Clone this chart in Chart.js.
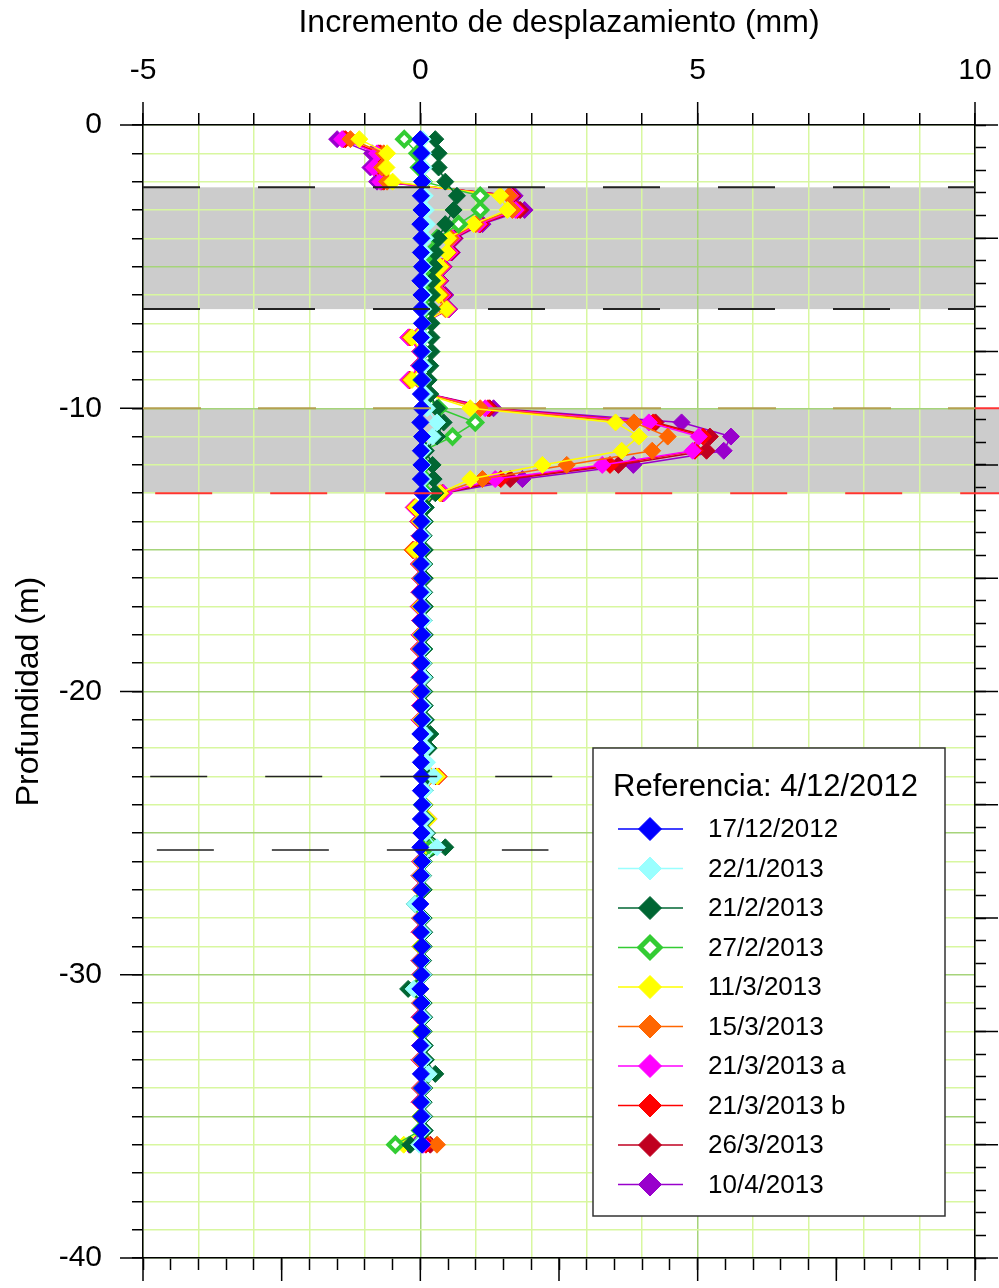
<!DOCTYPE html>
<html>
<head>
<meta charset="utf-8">
<script src="https://cdn.jsdelivr.net/npm/chart.js@4.4.0/dist/chart.umd.min.js"></script>
<style>
    html, body { margin: 0; padding: 0; background: #fff; }
</style>
</head>
<body>
<canvas id="inclinoChart" width="999" height="1288"></canvas>
<script>
// Inclinometer - displacement increment vs depth

const depths = [
    -0.5, -1, -1.5, -2, -2.5, -3, -3.5, -4,
    -4.5, -5, -5.5, -6, -6.5, -7, -7.5, -8,
    -8.5, -9, -9.5, -10, -10.5, -11, -11.5, -12,
    -12.5, -13, -13.5, -14, -14.5, -15, -15.5, -16,
    -16.5, -17, -17.5, -18, -18.5, -19, -19.5, -20,
    -20.5, -21, -21.5, -22, -22.5, -23, -23.5, -24,
    -24.5, -25, -25.5, -26, -26.5, -27, -27.5, -28,
    -28.5, -29, -29.5, -30, -30.5, -31, -31.5, -32,
    -32.5, -33, -33.5, -34, -34.5, -35, -35.5, -36
];

const seriesLabels = ['17/12/2012', '22/1/2013', '21/2/2013', '27/2/2013', '11/3/2013',
    '15/3/2013', '21/3/2013 a', '21/3/2013 b', '26/3/2013', '10/4/2013'];

const d171212 = [
    0, 0.02, 0.01, 0.03, 0.01, 0.02, 0, 0.02,
    0.01, 0.03, 0, 0.02, 0.01, 0.03, 0.01, 0.02,
    0, 0.03, 0.01, 0.02, 0, 0.03, 0.01, 0.02,
    0.01, 0.03, 0.01, 0.02, 0, 0.02, 0.01, 0.03,
    0, 0.02, 0.01, 0.03, 0.01, 0.02, 0, 0.02,
    0.01, 0.03, 0, 0.02, 0.01, 0.02, 0.01, 0.03,
    0.01, 0.02, 0, 0.03, 0.01, 0.02, 0, 0.02,
    0.01, 0.03, 0.01, 0.02, 0, 0.02, 0.01, 0.03,
    0, 0.02, 0.01, 0.03, 0.01, 0.02, 0.01, 0.03
];
const d220113 = [
    0.04, 0.05, 0.06, 0.05, 0.08, 0.1, 0.12, 0.09,
    0.07, 0.06, 0.05, 0.06, 0.05, 0.04, 0.06, 0.05,
    0.06, 0.05, 0.08, 0.12, 0.3, 0.22, 0.05, 0.04,
    0.05, 0.06, 0.03, 0.05, 0.04, 0.03, 0.05, 0.04,
    0.05, 0.04, 0.06, 0.05, 0.04, 0.05, 0.06, 0.04,
    0.05, 0.06, 0.08, 0.1, 0.12, 0.24, 0.08, 0.06,
    0.08, 0.1, 0.3, 0.05, 0.04, 0.03, -0.1, 0.04,
    0.05, 0.04, 0.03, 0.05, -0.12, 0.04, 0.05, 0.04,
    0.05, 0.06, 0.15, 0.05, 0.04, 0.05, 0.04, -0.02
];
const d210213 = [
    0.27, 0.33, 0.33, 0.45, 0.66, 0.6, 0.45, 0.33,
    0.27, 0.25, 0.21, 0.21, 0.21, 0.2, 0.2, 0.2,
    0.18, 0.15, 0.18, 0.3, 0.42, 0.3, 0.1, 0.22,
    0.24, 0.27, 0.1, 0.08, 0.06, 0.08, 0.07, 0.08,
    0.07, 0.08, 0.06, 0.08, 0.07, 0.06, 0.08, 0.07,
    0.08, 0.1, 0.18, 0.15, 0.08, 0.12, 0.08, 0.07,
    0.1, 0.12, 0.45, 0.06, 0.05, 0.06, -0.1, 0.06,
    0.07, 0.06, 0.05, 0.06, -0.22, 0.06, 0.07, 0.06,
    0.08, 0.1, 0.27, 0.07, 0.06, 0.07, 0.08, -0.18
];
const d270213 = [
    -0.29, -0.05, -0.02, 0.05, 1.08, 1.08, 0.69, 0.3,
    0.2, 0.15, 0.12, 0.1, 0.08, 0.06, 0.04, 0.05,
    0.05, 0.03, 0.08, 0.33, 0.99, 0.58, 0.05, 0.06,
    0.08, 0.1, 0.04, 0.05, 0.03, 0.04, 0.05, 0.04,
    0.04, 0.05, 0.03, 0.04, 0.05, 0.04, 0.03, 0.05,
    0.04, 0.05, 0.06, 0.05, 0.06, 0.12, 0.05, 0.04,
    0.06, 0.08, 0.2, 0.04, 0.03, 0.04, -0.05, 0.03,
    0.04, 0.03, 0.02, 0.03, -0.08, 0.03, 0.04, 0.03,
    0.04, 0.05, 0.1, 0.04, 0.03, 0.02, 0, -0.45
];
const d110313 = [
    -1.1, -0.6, -0.61, -0.5, 1.44, 1.57, 0.96, 0.5,
    0.48, 0.36, 0.3, 0.33, 0.48, 0.05, -0.15, 0.02,
    0, -0.15, 0.1, 0.9, 3.52, 3.94, 3.63, 2.2,
    0.9, 0.35, -0.08, 0, 0.01, -0.1, 0, 0.02,
    0.01, 0, 0.02, 0.01, 0, 0.02, 0.01, 0,
    0.02, 0.01, 0.05, 0.03, 0.1, 0.3, 0.05, 0.08,
    0.15, 0.05, 0.1, 0.02, 0, 0.01, -0.05, 0.02,
    0.01, 0, 0.02, 0.01, 0, 0.02, 0.01, 0,
    0.02, 0.01, 0.05, 0.02, 0.01, 0, 0.01, -0.3
];
const d150313 = [
    -1.26, -0.66, -0.69, -0.6, 1.6, 1.66, 1, 0.55,
    0.5, 0.38, 0.32, 0.37, 0.45, 0.05, -0.18, 0.02,
    0, -0.18, 0.12, 1.08, 3.85, 4.46, 4.18, 2.64,
    1.12, 0.37, -0.1, -0.02, 0, -0.14, -0.02, 0.01,
    0, -0.02, 0.01, 0, -0.01, 0.01, 0, -0.01,
    0.01, 0, 0.04, 0.02, 0.08, 0.33, 0.04, 0.06,
    0.12, 0.04, 0.08, 0.01, 0, 0.01, -0.04, 0.01,
    0, 0.01, 0, 0.01, -0.02, 0.01, 0, 0.01,
    0.01, 0, 0.04, 0.01, 0, 0.01, 0.02, 0.3
];
const d210313a = [
    -1.41, -0.78, -0.84, -0.72, 1.62, 1.72, 1.05, 0.58,
    0.53, 0.4, 0.34, 0.4, 0.5, 0.05, -0.22, 0,
    -0.02, -0.22, 0.14, 1.17, 4.12, 5.02, 4.91, 3.28,
    1.35, 0.42, -0.12, -0.03, -0.01, -0.13, -0.03, 0,
    -0.01, -0.03, 0, -0.01, -0.02, 0, -0.01, -0.02,
    0, -0.01, 0.03, 0.02, 0.08, 0.33, 0.04, 0.07,
    0.15, 0.04, 0.08, 0, -0.01, 0, -0.05, 0,
    -0.01, 0, -0.01, 0, -0.03, 0, -0.01, 0,
    0, -0.01, 0.03, 0, -0.01, 0, 0.01, 0.05
];
const d210313b = [
    -1.35, -0.72, -0.78, -0.66, 1.63, 1.75, 1.07, 0.58,
    0.54, 0.4, 0.34, 0.41, 0.5, 0.04, -0.2, 0,
    -0.02, -0.2, 0.13, 1.22, 4.2, 5.1, 4.95, 3.42,
    1.45, 0.4, -0.1, -0.03, -0.01, -0.14, -0.02, 0,
    -0.01, -0.02, 0, -0.01, -0.02, 0, -0.01, -0.01,
    0, -0.01, 0.03, 0.02, 0.07, 0.3, 0.04, 0.06,
    0.12, 0.03, 0.07, 0, -0.01, 0, -0.04, 0,
    -0.01, 0, -0.01, 0, -0.02, 0, -0.01, 0,
    0, -0.01, 0.03, 0, -0.01, 0, 0.01, 0.1
];
const d260313 = [
    -1.38, -0.75, -0.8, -0.7, 1.66, 1.8, 1.08, 0.6,
    0.55, 0.41, 0.35, 0.42, 0.51, 0.04, -0.2, 0,
    -0.02, -0.2, 0.14, 1.25, 4.24, 5.22, 5.16, 3.57,
    1.62, 0.4, -0.1, -0.03, -0.01, -0.12, -0.02, 0,
    -0.01, -0.02, 0, -0.01, -0.02, 0, -0.01, -0.01,
    0, -0.01, 0.03, 0.02, 0.07, 0.28, 0.04, 0.06,
    0.12, 0.03, 0.07, 0, -0.01, 0, -0.04, 0,
    -0.01, 0, -0.01, 0, -0.02, 0, -0.01, 0,
    0, -0.01, 0.03, 0, -0.01, 0, 0.01, 0.18
];
const d100413 = [
    -1.5, -0.87, -0.9, -0.78, 1.7, 1.88, 1.12, 0.62,
    0.57, 0.42, 0.36, 0.45, 0.52, 0.05, -0.2, 0,
    -0.02, -0.2, 0.15, 1.32, 4.71, 5.6, 5.47, 3.84,
    1.84, 0.42, -0.1, -0.03, -0.01, -0.12, -0.02, 0,
    -0.01, -0.02, 0, -0.01, -0.02, 0, -0.01, -0.01,
    0, -0.01, 0.03, 0.02, 0.07, 0.28, 0.04, 0.06,
    0.12, 0.03, 0.07, 0, -0.01, 0, -0.04, 0,
    -0.01, 0, -0.01, 0, -0.02, 0, -0.01, 0,
    0, -0.01, 0.03, 0, -0.01, 0, 0.01, -0.2
];

// layer boundaries (m) and marker depths
const bandTops = [-2.2, -10];
const bandBottoms = [-6.5, -13];
const markerDepths = [-23, -25.6];

const xTickLabels = [-5, 0, 5, 10];
const yTickLabels = [0, -10, -20, -30, -40];

const seriesValues = [d171212, d220113, d210213, d270213, d110313, d150313, d210313a, d210313b, d260313, d100413];
const seriesColors = ['#0000ff', '#99ffff', '#006633', '#33cc33', '#ffff00', '#ff6600', '#ff00ff', '#ff0000', '#c00020', '#9900cc'];

const FONT = "'Liberation Sans', Arial, sans-serif";
Chart.defaults.font.family = FONT;
Chart.defaults.color = '#000';

const datasets = seriesValues.map((vals, i) => {
    const hollow = i === 3;
    return {
        label: seriesLabels[i],
        data: depths.map((d, j) => ({ x: vals[j], y: d })),
        showLine: true,
        borderColor: seriesColors[i],
        backgroundColor: hollow ? '#ffffff' : seriesColors[i],
        pointBorderColor: seriesColors[i],
        pointBackgroundColor: hollow ? '#ffffff' : seriesColors[i],
        pointStyle: 'rectRot',
        pointRadius: hollow ? 7 : 8.5,
        pointBorderWidth: hollow ? 4 : 1,
        borderWidth: 1.5,
        order: 0
    };
});

function refLine(y, x0, x1, color, width, dash) {
    return {
        label: '',
        data: [{ x: x0, y: y }, { x: x1, y: y }],
        showLine: true,
        borderColor: color,
        borderWidth: width,
        borderDash: dash,
        pointRadius: 0,
        clip: false,
        order: -1
    };
}

// dashed boundaries of the gray layers
datasets.push(refLine(bandTops[0], -5, 10, '#222', 2, [57, 58]));
datasets.push(refLine(bandBottoms[0], -5, 10, '#222', 2, [57, 58]));
datasets.push(refLine(bandTops[1], -5, 10, '#b4a050', 2, [58, 57]));
datasets.push(refLine(bandTops[1], 10, 10.5, '#ff3333', 2, []));
datasets.push(refLine(bandBottoms[1], -4.78, 10.45, '#ff3333', 2, [57, 58]));
datasets.push(refLine(markerDepths[0], -4.87, 2.4, '#222', 1.5, [57, 58]));
datasets.push(refLine(markerDepths[1], -4.75, 2.31, '#222', 1.5, [57, 58]));

// gray layers behind the grid
const bandsPlugin = {
    id: 'bands',
    beforeDraw(chart) {
        const { ctx, scales: { x, y } } = chart;
        ctx.save();
        ctx.fillStyle = '#cccccc';
        bandTops.forEach((top, i) => {
            const x0 = x.getPixelForValue(-5);
            const x1 = x.getPixelForValue(i === 1 ? 10.5 : 10);
            const y0 = y.getPixelForValue(top);
            const y1 = y.getPixelForValue(bandBottoms[i]);
            ctx.fillRect(x0, y0, x1 - x0, y1 - y0);
        });
        ctx.restore();
    }
};

// long ticks at major values on all four axes
const majorTicksPlugin = {
    id: 'majorTicks',
    afterDraw(chart) {
        const { ctx, scales: { x, x2, y, y2 } } = chart;
        const len = 23;
        ctx.save();
        ctx.strokeStyle = '#000';
        ctx.lineWidth = 1.5;
        ctx.beginPath();
        xTickLabels.forEach(v => {
            const px = x.getPixelForValue(v);
            ctx.moveTo(px, x.bottom);
            ctx.lineTo(px, x.bottom - len);
        });
        [-5, -2.5, 0, 2.5, 5, 7.5, 10].forEach(v => {
            const px = x2.getPixelForValue(v);
            ctx.moveTo(px, x2.top);
            ctx.lineTo(px, x2.top + len);
        });
        yTickLabels.forEach(v => {
            const py = y.getPixelForValue(v);
            ctx.moveTo(y.right, py);
            ctx.lineTo(y.right - len, py);
        });
        [0, -4, -8, -12, -16, -20, -24, -28, -32, -36, -40].forEach(v => {
            const py = y2.getPixelForValue(v);
            ctx.moveTo(y2.left, py);
            ctx.lineTo(y2.left + len, py);
        });
        ctx.stroke();
        ctx.restore();
    }
};

// legend box inside the plot
const legendBoxPlugin = {
    id: 'legendBox',
    afterDraw(chart) {
        const ctx = chart.ctx;
        const bx = 593, by = 748, bw = 352, bh = 468;
        ctx.save();
        ctx.fillStyle = '#fff';
        ctx.fillRect(bx, by, bw, bh);
        ctx.strokeStyle = '#333';
        ctx.lineWidth = 1.5;
        ctx.strokeRect(bx, by, bw, bh);

        ctx.fillStyle = '#000';
        ctx.textBaseline = 'middle';
        ctx.textAlign = 'left';
        ctx.font = `31px ${FONT}`;
        ctx.fillText('Referencia: 4/12/2012', bx + 20, by + 39);

        ctx.font = `26px ${FONT}`;
        chart.data.datasets.slice(0, seriesLabels.length).forEach((ds, i) => {
            const cy = by + 81 + i * 39.5;
            const cx = bx + 57;
            ctx.strokeStyle = ds.borderColor;
            ctx.lineWidth = 1.5;
            ctx.beginPath();
            ctx.moveTo(bx + 25, cy);
            ctx.lineTo(bx + 90, cy);
            ctx.stroke();

            const r = i === 3 ? 10 : 11.5;
            ctx.beginPath();
            ctx.moveTo(cx, cy - r);
            ctx.lineTo(cx + r, cy);
            ctx.lineTo(cx, cy + r);
            ctx.lineTo(cx - r, cy);
            ctx.closePath();
            ctx.fillStyle = ds.pointBackgroundColor;
            ctx.fill();
            ctx.lineWidth = i === 3 ? 5 : 1;
            ctx.strokeStyle = ds.pointBorderColor;
            ctx.stroke();

            ctx.fillStyle = '#000';
            ctx.fillText(ds.label, bx + 115, cy + 1);
        });
        ctx.restore();
    }
};

const minorGrid = '#d8f7a0';
const majorGrid = '#a6d47a';

function noPad(s) {
    s.paddingLeft = 0;
    s.paddingRight = 0;
    s.paddingTop = 0;
    s.paddingBottom = 0;
}

const ctx = document.getElementById('inclinoChart').getContext('2d');
new Chart(ctx, {
    type: 'scatter',
    data: { datasets: datasets },
    options: {
        responsive: false,
        animation: false,
        layout: { padding: 0 },
        plugins: {
            legend: { display: false },
            tooltip: { enabled: false }
        },
        scales: {
            x: {
                type: 'linear',
                position: 'top',
                min: -5,
                max: 10,
                ticks: {
                    stepSize: 1,
                    autoSkip: false,
                    maxRotation: 0,
                    padding: 24,
                    font: { size: 30 },
                    color: '#000',
                    callback: v => (xTickLabels.includes(v) ? String(v) : '')
                },
                grid: {
                    color: c => (c.tick && c.tick.value % 5 === 0 ? majorGrid : minorGrid),
                    lineWidth: 1.5,
                    tickLength: 12,
                    tickColor: '#000',
                    tickWidth: 1.5
                },
                border: { color: '#000', width: 1.5 },
                title: {
                    display: true,
                    text: 'Incremento de desplazamiento (mm)',
                    font: { size: 32 },
                    color: '#000',
                    padding: { top: 4, bottom: 0 }
                },
                afterFit: s => { s.height = 125; noPad(s); }
            },
            x2: {
                type: 'linear',
                position: 'bottom',
                min: -5,
                max: 10,
                ticks: { stepSize: 0.5, autoSkip: false, callback: () => '' },
                grid: {
                    drawOnChartArea: false,
                    tickLength: 12,
                    tickColor: '#000',
                    tickWidth: 1.5
                },
                border: { color: '#000', width: 1.5 },
                afterFit: s => { s.height = 30; noPad(s); }
            },
            y: {
                type: 'linear',
                position: 'left',
                min: -40,
                max: 0,
                ticks: {
                    stepSize: 1,
                    autoSkip: false,
                    padding: 30,
                    font: { size: 30 },
                    color: '#000',
                    callback: v => (yTickLabels.includes(v) ? String(v) : '')
                },
                grid: {
                    color: c => (c.tick && c.tick.value % 5 === 0 ? majorGrid : minorGrid),
                    lineWidth: 1.5,
                    tickLength: 11,
                    tickColor: '#000',
                    tickWidth: 1.5
                },
                border: { color: '#000', width: 1.5 },
                title: {
                    display: true,
                    text: 'Profundidad (m)',
                    font: { size: 32 },
                    color: '#000',
                    padding: { top: 10, bottom: 0 }
                },
                afterFit: s => { s.width = 143; noPad(s); }
            },
            y2: {
                type: 'linear',
                position: 'right',
                min: -40,
                max: 0,
                ticks: { stepSize: 0.8, autoSkip: false, callback: () => '' },
                grid: {
                    drawOnChartArea: false,
                    tickLength: 11,
                    tickColor: '#000',
                    tickWidth: 1.5
                },
                border: { color: '#000', width: 1.5 },
                afterFit: s => { s.width = 24; noPad(s); }
            }
        }
    },
    plugins: [bandsPlugin, majorTicksPlugin, legendBoxPlugin]
});
</script>
</body>
</html>
